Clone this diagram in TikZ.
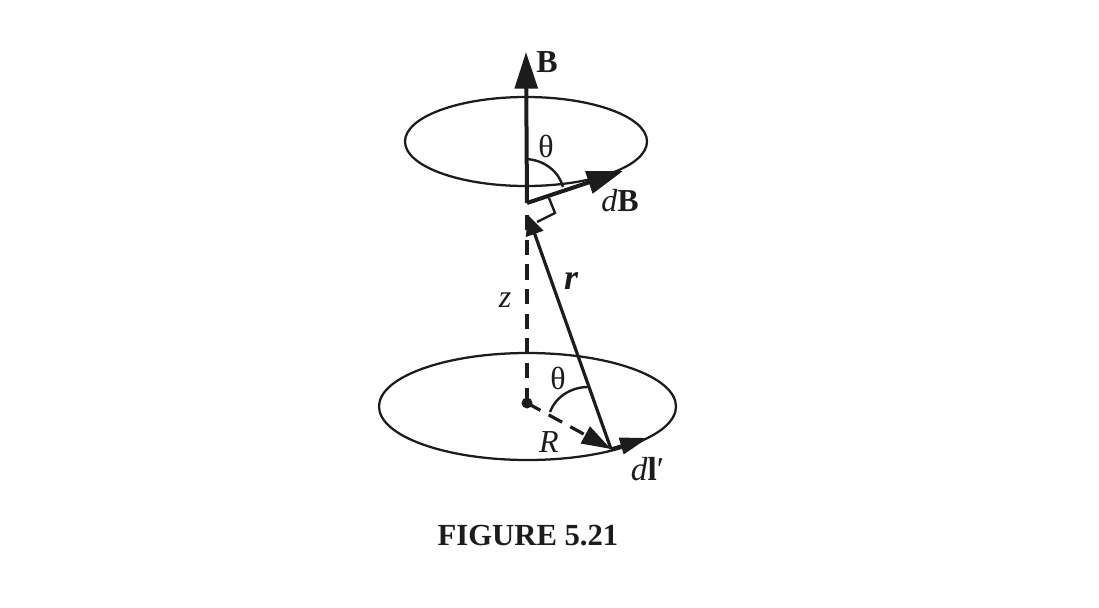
\documentclass[tikz,border=0pt]{standalone}
\usepackage{fontspec}
\setmainfont{Liberation Serif}
\usetikzlibrary{arrows.meta}
\definecolor{ink}{HTML}{1C1C1C}
\tikzset{
  px/.style={x=0.75pt,y=-0.75pt},
  ring/.style={draw=ink,line width=1.7pt},
  thick line/.style={draw=ink,line width=3pt},
  mid line/.style={draw=ink,line width=2.4pt},
  dash line/.style={draw=ink,line width=2.4pt,dash pattern=on 11.5pt off 7pt},
  thin line/.style={draw=ink,line width=1.8pt},
  lab/.style={text=ink,inner sep=0pt,font=\fontsize{18.5pt}{20pt}\selectfont},
  bigtip/.style={-{Triangle[length=27.5pt,width=17pt]}},
  sidetip/.style={-{Triangle[length=27pt,width=17pt]}},
  rtip/.style={-{Triangle[length=15pt,width=13.5pt]}},
  Rtip/.style={-{Triangle[length=22pt,width=14pt]}},
  ltip/.style={-{Triangle[length=21pt,width=12.5pt]}},
}
\begin{document}
\begin{tikzpicture}[px]
\useasboundingbox (0,0) rectangle (1099,607);
\coordinate (O) at (527,203);
\coordinate (Btop) at (526,52);
\coordinate (dBtip) at (623,171);
\coordinate (rtip) at (528,215);
\coordinate (C) at (527,403);
\coordinate (P) at (611,449);
\coordinate (ltip) at (648,438);
\coordinate (zend) at (527,206);
\coordinate (sq1) at (549,198);
\coordinate (sq2) at (555,213);
\coordinate (sq3) at (537,222);
\coordinate (a1) at (526,159);
\coordinate (a2) at (563,187);
\coordinate (b1) at (550,412);
\coordinate (b2) at (588,387);

\draw[ring] (526,141.5) ellipse [x radius=121,y radius=44.5];
\draw[ring] (527.5,406.5) ellipse [x radius=148.5,y radius=53.5];

\draw[dash line] (C) -- (zend);
\draw[thin line] (sq1) -- (sq2) -- (sq3);
\draw[thick line,bigtip] (O) -- (Btop);
\draw[thick line,sidetip] (O) -- (dBtip);
\draw[mid line,rtip] (P) -- (rtip);
\draw[dash line,Rtip] (C) -- (P);
\draw[mid line,ltip] (P) -- (ltip);
\fill[ink] (C) circle [radius=5.5];
\draw[thin line] (a1) .. controls (545,160) and (559,172) .. (a2);
\draw[thin line] (b1) .. controls (555,398) and (570,387) .. (b2);

\node[lab,font=\fontsize{24pt}{26pt}\bfseries\selectfont] (B) at (547,62) {B};
\node[lab,font=\fontsize{24pt}{26pt}\selectfont] (t1) at (546,146) {θ};
\node[lab,font=\fontsize{24pt}{26pt}\selectfont] (dB) at (620,201) {\textit{d}\textbf{B}};
\node[lab,font=\fontsize{27pt}{26pt}\bfseries\itshape\selectfont] (r) at (571,281) {r};
\node[lab,font=\fontsize{24pt}{26pt}\itshape\selectfont] (z) at (505,300) {z};
\node[lab,font=\fontsize{24pt}{26pt}\selectfont] (t2) at (558,378) {θ};
\node[lab,font=\fontsize{24pt}{26pt}\itshape\selectfont] (R) at (549,442) {R};
\node[lab,font=\fontsize{25pt}{26pt}\selectfont] (dl) at (647.5,469) {\textit{d}\textbf{l}′};
\node[lab,font=\fontsize{23pt}{24pt}\bfseries\selectfont] (cap) at (528,536) {FIGURE 5.21};
\end{tikzpicture}
\end{document}
